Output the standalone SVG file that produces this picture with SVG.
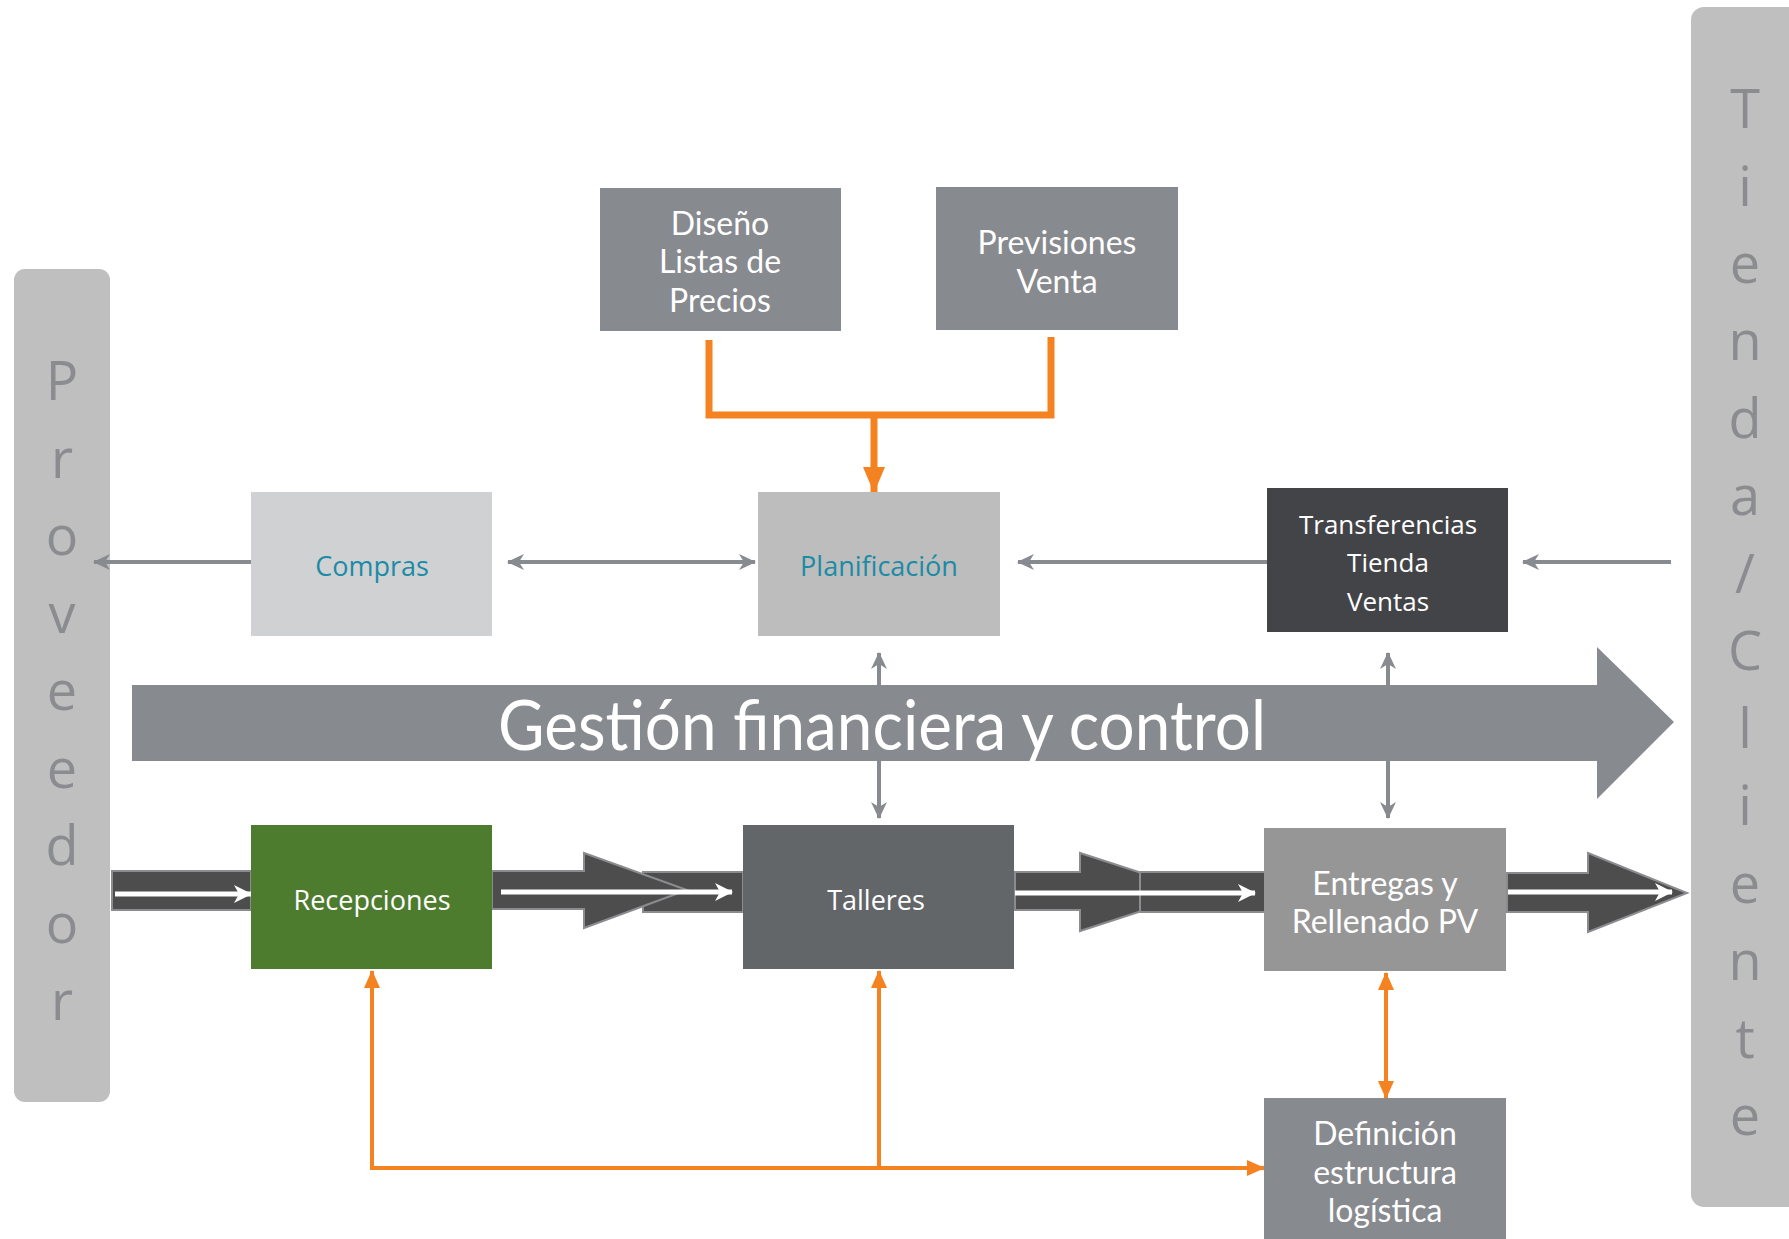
<svg xmlns="http://www.w3.org/2000/svg" width="1789" height="1239" viewBox="0 0 1789 1239">
<style>
.side{fill:#bfbfbf}
.sidetxt{font-family:"Open Sans","DejaVu Sans",sans-serif;font-size:54px;fill:#8a8c90;text-anchor:middle;font-weight:400}
.wt{font-family:Lato,"Open Sans",sans-serif;fill:#ffffff;text-anchor:middle;dominant-baseline:central}
.os{font-family:"Open Sans","Noto Sans",sans-serif;text-anchor:middle;dominant-baseline:central}
.gl{stroke:#878a8e;stroke-width:4;fill:none}
.ol{stroke:#f58220;fill:none}
.flow{fill:#4d4d4d;stroke:#8a8c90;stroke-width:2}
.wl{stroke:#ffffff;stroke-width:5;fill:none}
</style>
<defs>
<marker id="ag" markerUnits="userSpaceOnUse" markerWidth="18" markerHeight="16" refX="16" refY="8" orient="auto-start-reverse"><path d="M0,0 L17,8 L0,16 L5,8 z" fill="#878a8e"/></marker>
<marker id="ao" markerUnits="userSpaceOnUse" markerWidth="18" markerHeight="18" refX="17" refY="9" orient="auto-start-reverse"><path d="M0,1 L18,9 L0,17 z" fill="#f58220"/></marker>
<marker id="aoB" markerUnits="userSpaceOnUse" markerWidth="26" markerHeight="24" refX="25" refY="12" orient="auto"><path d="M0,1 L26,12 L0,23 z" fill="#f58220"/></marker>
<marker id="aw" markerUnits="userSpaceOnUse" markerWidth="18" markerHeight="18" refX="17" refY="9" orient="auto"><path d="M0,0 L18,9 L0,18 L5,9 z" fill="#ffffff"/></marker>
</defs>

<g id="proveedor">
<rect class="side" x="14" y="269" width="96" height="833" rx="11"/>
<text class="sidetxt"><tspan x="62" y="400">P</tspan><tspan x="62" y="478">r</tspan><tspan x="62" y="555">o</tspan><tspan x="62" y="633">v</tspan><tspan x="62" y="710">e</tspan><tspan x="62" y="788">e</tspan><tspan x="62" y="865">d</tspan><tspan x="62" y="943">o</tspan><tspan x="62" y="1020">r</tspan></text>
</g>

<g id="tienda-cliente">
<rect class="side" x="1691" y="7" width="120" height="1200" rx="13"/>
<text class="sidetxt"><tspan x="1745" y="128">T</tspan><tspan x="1745" y="206">i</tspan><tspan x="1745" y="283">e</tspan><tspan x="1745" y="360">n</tspan><tspan x="1745" y="438">d</tspan><tspan x="1745" y="515">a</tspan><tspan x="1745" y="593">/</tspan><tspan x="1745" y="670">C</tspan><tspan x="1745" y="748">l</tspan><tspan x="1745" y="825">i</tspan><tspan x="1745" y="903">e</tspan><tspan x="1745" y="980">n</tspan><tspan x="1745" y="1058">t</tspan><tspan x="1745" y="1135">e</tspan></text>
</g>

<g id="connectors">
<polyline class="ol" stroke-width="7" points="709,340 709,415 1051,415 1051,337"/>
<line class="ol" stroke-width="7" x1="874" y1="415" x2="874" y2="492" marker-end="url(#aoB)"/>
<line class="gl" x1="251" y1="562" x2="94" y2="562" marker-end="url(#ag)"/>
<line class="gl" x1="508" y1="562" x2="755" y2="562" marker-start="url(#ag)" marker-end="url(#ag)"/>
<line class="gl" x1="1267" y1="562" x2="1018" y2="562" marker-end="url(#ag)"/>
<line class="gl" x1="1671" y1="562" x2="1523" y2="562" marker-end="url(#ag)"/>
<line class="gl" x1="879" y1="653" x2="879" y2="818" marker-start="url(#ag)" marker-end="url(#ag)"/>
<line class="gl" x1="1388" y1="653" x2="1388" y2="818" marker-start="url(#ag)" marker-end="url(#ag)"/>
<line class="ol" stroke-width="4" x1="372" y1="1168" x2="372" y2="971" marker-end="url(#ao)"/>
<line class="ol" stroke-width="4" x1="370" y1="1168" x2="1264" y2="1168" marker-end="url(#ao)"/>
<line class="ol" stroke-width="4" x1="879" y1="1168" x2="879" y2="971" marker-end="url(#ao)"/>
<line class="ol" stroke-width="4" x1="1386" y1="973" x2="1386" y2="1098" marker-start="url(#ao)" marker-end="url(#ao)"/>
<rect class="flow" x="112" y="871" width="139" height="39"/>
<rect class="flow" x="643" y="872" width="100" height="40"/>
<polygon class="flow" points="492,871 584,871 584,853 687,890 584,928 584,909 492,909"/>
<polygon class="flow" points="1015,872 1080,872 1080,853 1200,892 1080,931 1080,910 1015,910"/>
<rect class="flow" x="1140" y="872" width="125" height="40"/>
<polygon class="flow" points="1507,873 1588,873 1588,853 1687,893 1588,932 1588,912 1507,912"/>
<line class="wl" x1="115" y1="894" x2="251" y2="894" marker-end="url(#aw)"/>
<line class="wl" x1="501" y1="892" x2="732" y2="892" marker-end="url(#aw)"/>
<line class="wl" x1="1015" y1="893" x2="1255" y2="893" marker-end="url(#aw)"/>
<line class="wl" x1="1508" y1="892" x2="1672" y2="892" marker-end="url(#aw)"/>
</g>

<g id="gestion">
<polygon fill="#878a8e" points="132,685 1597,685 1597,647 1674,722 1597,799 1597,761 132,761"/>
<text class="wt" x="882" y="750" font-size="70" textLength="768" lengthAdjust="spacingAndGlyphs" style="dominant-baseline:auto">Gestión financiera y control</text>
</g>

<g id="diseno">
<rect x="600" y="188" width="241" height="143" fill="#878a8e"/>
<text class="wt" x="720" font-size="32"><tspan x="720" y="222">Diseño</tspan><tspan x="720" y="260">Listas de</tspan><tspan x="720" y="299">Precios</tspan></text>
</g>

<g id="previsiones">
<rect x="936" y="187" width="242" height="143" fill="#878a8e"/>
<text class="wt" font-size="32"><tspan x="1057" y="241">Previsiones</tspan><tspan x="1057" y="280">Venta</tspan></text>
</g>

<g id="compras">
<rect x="251" y="492" width="241" height="144" fill="#d0d1d3"/>
<text class="os" x="372" y="565" font-size="27" fill="#1b8ba6">Compras</text>
</g>

<g id="planificacion">
<rect x="758" y="492" width="242" height="144" fill="#bdbdbd"/>
<text class="os" x="879" y="565" font-size="27" fill="#1b8ba6">Planificación</text>
</g>

<g id="transferencias">
<rect x="1267" y="488" width="241" height="144" fill="#434447"/>
<text class="os" font-size="26" fill="#ffffff"><tspan x="1388" y="524">Transferencias</tspan><tspan x="1388" y="562">Tienda</tspan><tspan x="1388" y="601">Ventas</tspan></text>
</g>

<g id="recepciones">
<rect x="251" y="825" width="241" height="144" fill="#4e7c2f"/>
<text class="os" x="372" y="899" font-size="27" fill="#ffffff">Recepciones</text>
</g>

<g id="talleres">
<rect x="743" y="825" width="271" height="144" fill="#636669"/>
<text class="os" x="876" y="899" font-size="27" fill="#ffffff">Talleres</text>
</g>

<g id="entregas">
<rect x="1264" y="828" width="242" height="143" fill="#969696"/>
<text class="wt" font-size="32"><tspan x="1385" y="882">Entregas y</tspan><tspan x="1385" y="920">Rellenado PV</tspan></text>
</g>

<g id="definicion">
<rect x="1264" y="1098" width="242" height="150" fill="#878a8e"/>
<text class="wt" font-size="32"><tspan x="1385" y="1132">Definición</tspan><tspan x="1385" y="1171">estructura</tspan><tspan x="1385" y="1209">logística</tspan></text>
</g>
</svg>
